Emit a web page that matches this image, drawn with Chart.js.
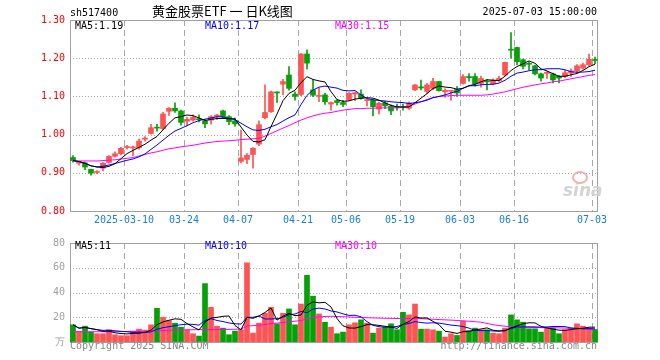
<!DOCTYPE html>
<html lang="zh">
<head>
<meta charset="utf-8">
<title>黄金股票ETF 一 日K线图</title>
<script src="https://cdn.jsdelivr.net/npm/chart.js@4"></script>
<style>
  body { margin:0; background:#fff; }
  #wrap { position:relative; width:660px; height:360px; overflow:hidden; font-family:"DejaVu Sans Mono", monospace; font-size:10px; }
  .t { position:absolute; white-space:nowrap; line-height:12px; }
  #kbox { position:absolute; left:0; top:0; }
  #vbox { position:absolute; left:0; top:230px; }
  #logo { position:absolute; left:563px; top:180px; font:italic bold 17px "DejaVu Sans", sans-serif; color:#d4d4d4; }
  #logo span { position:absolute; left:9px; top:-9px; width:12px; height:9px; border:2px solid #f3b0b0; border-radius:50%; }
</style>
</head>
<body>
<div id="wrap">
  <canvas id="kline" width="660" height="232"></canvas>
  <canvas id="vol" width="660" height="130"></canvas>

  <div class="t" style="left:70px;top:7px;color:#000">sh517400</div>
  <div class="t" style="left:152px;top:3px;font:13px/16px 'Noto Sans CJK SC',sans-serif;color:#000">黄金股票ETF 一 日K线图</div>
  <div class="t" style="right:63px;top:6px;color:#000">2025-07-03 15:00:00</div>

  <div class="t" style="left:75px;top:20px;color:#000">MA5:1.19</div>
  <div class="t" style="left:205px;top:20px;color:#0000ff">MA10:1.17</div>
  <div class="t" style="left:335px;top:20px;color:#ff00ff">MA30:1.15</div>

  <div class="t" style="left:75px;top:240px;color:#000">MA5:11</div>
  <div class="t" style="left:205px;top:240px;color:#0000ff">MA10:10</div>
  <div class="t" style="left:335px;top:240px;color:#ff00ff">MA30:10</div>

  <div class="t" style="left:70px;top:340px;color:#888">Copyright 2025 SINA.COM</div>
  <div class="t" style="right:63px;top:340px;color:#888">http://finance.sina.com.cn</div>
  <div id="logo"><span></span>sina</div>
</div>

<script>
// trading days shown (2025)
const dates = [
  '02-25','02-26','02-27','02-28',
  '03-03','03-04','03-05','03-06','03-07','03-10','03-11','03-12','03-13','03-14','03-17','03-18','03-19','03-20','03-21','03-24','03-25','03-26','03-27','03-28','03-31',
  '04-01','04-02','04-03','04-07','04-08','04-09','04-10','04-11','04-14','04-15','04-16','04-17','04-18','04-21','04-22','04-23','04-24','04-25','04-28','04-29','04-30',
  '05-06','05-07','05-08','05-09','05-12','05-13','05-14','05-15','05-16','05-19','05-20','05-21','05-22','05-23','05-26','05-27','05-28','05-29','05-30',
  '06-03','06-04','06-05','06-06','06-09','06-10','06-11','06-12','06-13','06-16','06-17','06-18','06-19','06-20','06-23','06-24','06-25','06-26','06-27','06-30',
  '07-01','07-02','07-03'
];
const tickDates = ['03-10','03-24','04-07','04-21','05-06','05-19','06-03','06-16','07-03'];

const open = [
  0.940,0.925,0.926,0.909,0.901,0.912,0.927,0.943,0.950,0.966,0.965,0.966,0.988,1.003,1.019,1.016,1.061,1.069,1.062,1.035,
  1.038,1.041,1.036,1.038,1.047,1.062,1.047,1.036,0.930,0.935,0.948,0.975,1.044,1.060,1.111,1.132,1.156,1.106,1.105,1.211,
  1.117,1.100,1.104,1.080,1.089,1.084,1.091,1.106,1.106,1.089,1.090,1.067,1.083,1.075,1.073,1.073,1.069,1.117,1.125,1.113,
  1.121,1.139,1.112,1.113,1.118,1.134,1.152,1.152,1.134,1.140,1.133,1.141,1.156,1.223,1.228,1.196,1.186,1.180,1.159,1.160,
  1.159,1.153,1.152,1.161,1.167,1.174,1.183,1.196
];
const high = [
  0.945,0.930,0.928,0.910,0.906,0.927,0.945,0.955,0.967,0.972,0.970,0.988,0.995,1.027,1.027,1.058,1.071,1.083,1.064,1.045,
  1.052,1.052,1.040,1.050,1.053,1.064,1.050,1.043,1.012,0.950,0.966,1.036,1.130,1.114,1.112,1.145,1.178,1.112,1.212,1.222,
  1.143,1.122,1.108,1.086,1.092,1.090,1.110,1.111,1.117,1.091,1.092,1.085,1.087,1.078,1.080,1.080,1.086,1.131,1.143,1.134,
  1.147,1.139,1.120,1.116,1.126,1.157,1.160,1.160,1.153,1.143,1.146,1.153,1.190,1.267,1.229,1.198,1.190,1.182,1.161,1.165,
  1.161,1.155,1.168,1.172,1.183,1.187,1.211,1.203
];
const low = [
  0.928,0.920,0.908,0.894,0.898,0.905,0.925,0.941,0.947,0.962,0.945,0.962,0.983,1.001,1.009,1.013,1.050,1.058,1.025,1.023,
  1.035,1.033,1.018,1.027,1.040,1.044,1.026,1.022,0.926,0.924,0.912,0.971,1.041,1.058,1.084,1.104,1.116,1.090,1.102,1.172,
  1.099,1.086,1.079,1.064,1.077,1.073,1.089,1.089,1.093,1.075,1.049,1.054,1.068,1.052,1.064,1.064,1.066,1.115,1.117,1.108,
  1.117,1.114,1.098,1.090,1.100,1.132,1.140,1.127,1.124,1.117,1.130,1.139,1.154,1.200,1.183,1.172,1.170,1.156,1.140,1.147,
  1.135,1.135,1.150,1.152,1.161,1.171,1.180,1.186
];
const close = [
  0.932,0.927,0.915,0.899,0.903,0.925,0.943,0.950,0.964,0.969,0.967,0.983,0.991,1.018,1.017,1.054,1.069,1.062,1.032,1.040,
  1.045,1.039,1.028,1.047,1.051,1.047,1.034,1.028,0.939,0.946,0.964,1.026,1.058,1.112,1.109,1.139,1.121,1.100,1.211,1.187,
  1.103,1.102,1.086,1.084,1.084,1.079,1.108,1.110,1.095,1.091,1.073,1.082,1.075,1.062,1.071,1.071,1.083,1.130,1.122,1.130,
  1.139,1.115,1.116,1.115,1.109,1.152,1.149,1.133,1.147,1.138,1.143,1.147,1.189,1.221,1.191,1.179,1.184,1.159,1.148,1.163,
  1.143,1.148,1.162,1.167,1.180,1.183,1.197,1.194
];
// volume, unit 10k lots
const volume = [
  13.9,8.5,12.8,8.0,6.7,6.7,9.9,5.9,5.1,5.1,8.8,10.4,9.6,13.9,27.2,20.0,17.3,15.2,12.0,9.9,
  6.7,4.8,47.2,28.0,12.8,11.2,5.9,8.8,9.9,64.0,7.2,15.2,23.2,28.0,14.7,23.2,26.7,13.9,30.7,53.9,
  37.0,22.7,16.0,12.0,6.7,8.0,13.9,15.5,17.9,15.2,7.2,11.2,12.0,14.7,9.9,24.0,21.9,30.7,10.4,10.4,
  9.9,8.8,4.0,6.7,5.3,16.8,9.3,11.2,9.9,9.9,7.2,6.7,11.2,21.9,17.9,16.0,10.7,10.7,8.0,11.2,
  11.2,6.7,9.9,11.2,14.7,12.8,11.2,10.1
];
// 30-day averages as drawn (they need history before the window)
const ma30Price = [
  0.931,0.931,0.931,0.931,0.931,0.932,0.933,0.934,0.936,0.938,0.940,0.944,0.948,0.952,0.955,0.959,0.963,0.965,0.968,0.970,
  0.972,0.975,0.978,0.980,0.982,0.983,0.984,0.985,0.987,0.988,0.989,0.990,0.996,1.003,1.010,1.017,1.024,1.031,1.038,1.044,
  1.049,1.053,1.056,1.058,1.061,1.064,1.066,1.068,1.068,1.069,1.069,1.070,1.070,1.070,1.070,1.071,1.074,1.080,1.086,1.092,
  1.097,1.100,1.101,1.102,1.103,1.103,1.103,1.103,1.103,1.104,1.106,1.109,1.112,1.116,1.120,1.124,1.127,1.130,1.133,1.135,
  1.138,1.140,1.143,1.146,1.149,1.152,1.155,1.157
];
const ma30Vol = [
  8.3,8.3,8.3,8.3,8.3,8.3,8.3,8.4,8.4,8.5,8.5,8.6,8.7,8.9,9.1,9.3,9.5,9.6,9.7,9.8,
  9.9,10.0,10.0,10.0,10.1,10.1,10.2,10.3,10.5,12.8,13.2,13.6,14.2,14.8,15.3,15.8,16.3,16.8,17.3,18.8,
  19.8,20.3,20.6,20.8,20.6,20.4,20.2,20.0,19.8,19.6,19.5,19.3,19.2,19.1,19.0,19.0,19.0,19.0,18.8,18.6,
  18.4,18.1,17.9,17.7,17.4,17.1,16.8,16.4,16.0,15.0,14.0,13.3,12.8,12.4,12.0,11.9,11.8,11.7,11.6,11.5,
  11.5,11.4,11.2,11.0,10.8,10.6,10.3,10.1
];

const UP = '#ff5454', DOWN = '#08a008';
const MONO = '"DejaVu Sans Mono", monospace';

function movingAvg(arr, n) {
  return arr.map((_, i) => {
    const s = arr.slice(Math.max(0, i - n + 1), i + 1);
    return s.reduce((a, b) => a + b, 0) / s.length;
  });
}
const colors = close.map((c, i) => c >= open[i] ? UP : DOWN);
const tickIdx = tickDates.map(d => dates.indexOf(d));

// dotted level lines, dashed date lines and the grey frame
const frame = {
  id: 'frame',
  beforeDatasetsDraw(chart, args, opts) {
    const { ctx, chartArea: a, scales: { x, y } } = chart;
    ctx.save();
    ctx.lineWidth = 1;
    ctx.strokeStyle = '#a8a8a8';
    ctx.setLineDash([1, 2]);
    opts.levels.forEach(v => {
      const py = Math.round(y.getPixelForValue(v)) + 0.5;
      ctx.beginPath(); ctx.moveTo(a.left, py); ctx.lineTo(a.right, py); ctx.stroke();
    });
    ctx.setLineDash([6, 4]);
    tickIdx.forEach(i => {
      const px = Math.round(x.getPixelForValue(i) - 3) + 0.5;
      ctx.beginPath(); ctx.moveTo(px, a.top); ctx.lineTo(px, a.bottom); ctx.stroke();
    });
    ctx.setLineDash([]);
    ctx.strokeStyle = '#a0a0a0';
    ctx.strokeRect(a.left + 0.5, a.top + 0.5, a.right - a.left - 1, a.bottom - a.top);
    ctx.restore();
  }
};

function lineSet(data, color) {
  return { type: 'line', data, borderColor: color, borderWidth: 1, pointRadius: 0, tension: 0, order: 0 };
}

new Chart(document.getElementById('kline'), {
  type: 'bar',
  data: {
    labels: dates,
    datasets: [
      lineSet(movingAvg(close, 5), '#000000'),
      lineSet(movingAvg(close, 10), '#0000ff'),
      lineSet(ma30Price, '#ff00ff'),
      { data: dates.map((d, i) => [low[i], high[i]]), backgroundColor: colors, barThickness: 1, grouped: false, order: 2 },
      { data: dates.map((d, i) => [open[i], close[i]]), backgroundColor: colors, barThickness: 5, minBarLength: 1, grouped: false, order: 1 }
    ]
  },
  options: {
    responsive: false,
    animation: false,
    devicePixelRatio: 1,
    layout: { padding: { top: 20, right: 62, left: 0, bottom: 0 } },
    plugins: { legend: { display: false }, tooltip: { enabled: false }, frame: { levels: [0.9, 1.0, 1.1, 1.2] } },
    scales: {
      x: {
        offset: true,
        grid: { display: false, drawTicks: false },
        border: { display: false },
        ticks: {
          autoSkip: false, maxRotation: 0, padding: 3, labelOffset: -3,
          color: '#1a7fd4', font: { family: MONO, size: 10 },
          callback: (v, i) => i === tickIdx[0] ? '2025-' + dates[i] : (tickIdx.includes(i) ? dates[i] : '')
        },
        afterFit: s => { s.height = 21; }
      },
      y: {
        min: 0.8, max: 1.3,
        grid: { display: false, drawTicks: false },
        border: { display: false },
        ticks: { stepSize: 0.1, padding: 5, color: '#ff0000', font: { family: MONO, size: 10 }, callback: v => v.toFixed(2) },
        afterFit: s => { s.width = 70; }
      }
    }
  },
  plugins: [frame]
});

new Chart(document.getElementById('vol'), {
  type: 'bar',
  data: {
    labels: dates,
    datasets: [
      lineSet(movingAvg(volume, 5), '#000000'),
      lineSet(movingAvg(volume, 10), '#0000ff'),
      lineSet(ma30Vol, '#ff00ff'),
      { data: volume, backgroundColor: colors, barThickness: 5, order: 1 }
    ]
  },
  options: {
    responsive: false,
    animation: false,
    devicePixelRatio: 1,
    layout: { padding: { top: 10, right: 62, left: 0, bottom: 20 } },
    plugins: { legend: { display: false }, tooltip: { enabled: false }, frame: { levels: [20, 40, 60] } },
    scales: {
      x: { offset: true, display: false },
      y: {
        min: 0, max: 80,
        grid: { display: false, drawTicks: false },
        border: { display: false },
        ticks: { stepSize: 20, padding: 5, color: '#a0a0a0', font: { family: MONO, size: 10 }, callback: v => v === 0 ? '万' : v },
        afterFit: s => { s.width = 70; }
      }
    }
  },
  plugins: [frame]
});
</script>
</body>
</html>
